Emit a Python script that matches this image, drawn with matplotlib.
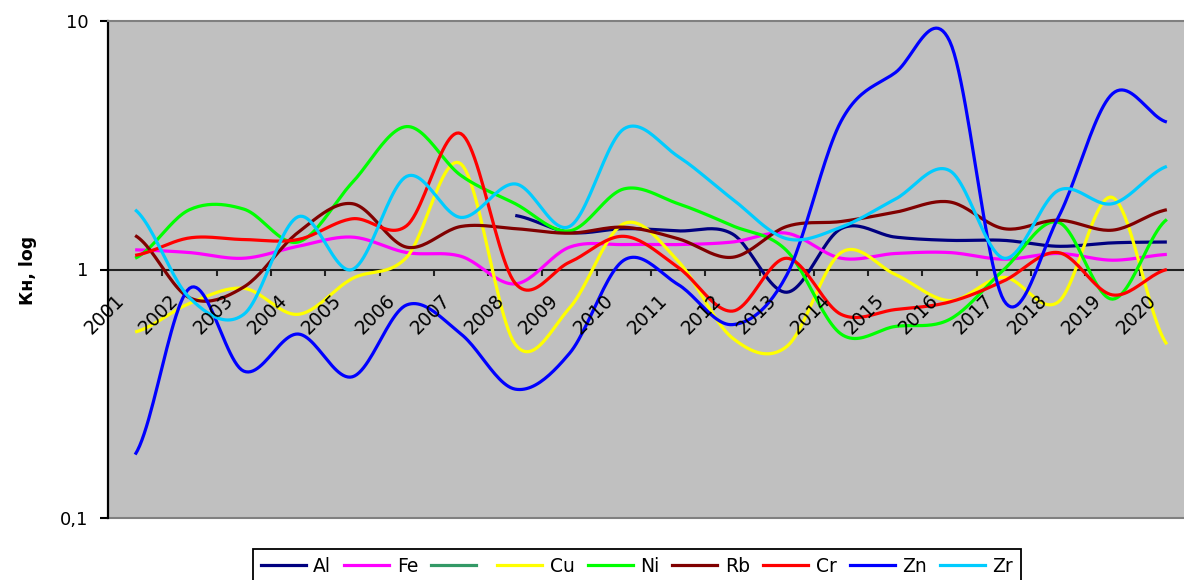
import numpy as np
import matplotlib
matplotlib.use("Agg")
import matplotlib.pyplot as plt
from matplotlib.lines import Line2D
from matplotlib.transforms import ScaledTranslation

plt.rcParams["font.family"] = ["DejaVu Sans"]

nan = np.nan

years = ["2001", "2002", "2003", "2004", "2005", "2006", "2007", "2008", "2009", "2010",
         "2011", "2012", "2013", "2014", "2015", "2016", "2017", "2018", "2019", "2020"]

al = [nan, nan, nan, nan, nan, nan, nan, 1.65, 1.41, 1.46,
      1.43, 1.39, 0.81, 1.46, 1.35, 1.31, 1.31, 1.24, 1.28, 1.29]
fe = [1.20, 1.17, 1.11, 1.24, 1.35, 1.17, 1.13, 0.875, 1.23, 1.26,
      1.26, 1.29, 1.40, 1.11, 1.16, 1.17, 1.10, 1.16, 1.09, 1.15]
cu = [0.56, 0.73, 0.84, 0.66, 0.92, 1.12, 2.66, 0.50, 0.70, 1.53,
      1.08, 0.53, 0.49, 1.17, 0.955, 0.75, 0.93, 0.74, 1.95, 0.50]
ni = [1.11, 1.74, 1.75, 1.29, 2.24, 3.76, 2.39, 1.84, 1.43, 2.11,
      1.84, 1.50, 1.19, 0.55, 0.59, 0.63, 1.00, 1.55, 0.76, 1.59]
rb = [1.37, 0.77, 0.85, 1.41, 1.84, 1.23, 1.49, 1.46, 1.40, 1.48,
      1.33, 1.12, 1.49, 1.56, 1.70, 1.87, 1.46, 1.58, 1.44, 1.74]
cr = [1.14, 1.34, 1.32, 1.32, 1.60, 1.50, 3.52, 0.88, 1.07, 1.36,
      1.02, 0.68, 1.11, 0.66, 0.69, 0.74, 0.90, 1.17, 0.79, 1.00]
zn = [0.18, 0.84, 0.39, 0.55, 0.37, 0.72, 0.55, 0.33, 0.46, 1.09,
      0.87, 0.60, 0.95, 3.95, 6.20, 8.30, 0.75, 1.62, 5.10, 3.92]
zr = [1.74, 0.77, 0.66, 1.63, 1.00, 2.37, 1.62, 2.21, 1.49, 3.68,
      2.85, 1.92, 1.33, 1.48, 1.92, 2.50, 1.11, 2.08, 1.84, 2.60]

series_names = ["Al", "Fe", "", "Cu", "Ni", "Rb", "Cr", "Zn", "Zr"]
series_values = [al, fe, None, cu, ni, rb, cr, zn, zr]
series_colors = ["#000080", "#FF00FF", "#339966", "#FFFF00", "#00FF00",
                 "#800000", "#FF0000", "#0000FF", "#00CCFF"]


def smooth(xs, ys, steps=24):
    """Catmull-Rom curve through the points, computed on log10 of the values."""
    xs = np.asarray(xs, float)
    ly = np.log10(np.asarray(ys, float))
    n = len(xs)
    out_x, out_y = [], []
    for i in range(n - 1):
        p0 = ly[i - 1] if i > 0 else ly[i]
        p1, p2 = ly[i], ly[i + 1]
        p3 = ly[i + 2] if i + 2 < n else ly[i + 1]
        m1 = (p2 - p0) / 2.0
        m2 = (p3 - p1) / 2.0
        t = np.linspace(0, 1, steps, endpoint=(i == n - 2))
        h00 = 2 * t**3 - 3 * t**2 + 1
        h10 = t**3 - 2 * t**2 + t
        h01 = -2 * t**3 + 3 * t**2
        h11 = t**3 - t**2
        out_x.append(xs[i] + t * (xs[i + 1] - xs[i]))
        out_y.append(h00 * p1 + h10 * m1 + h01 * p2 + h11 * m2)
    return np.concatenate(out_x), 10 ** np.concatenate(out_y)


W, H = 1184, 580
fig = plt.figure(figsize=(W / 100, H / 100), dpi=100, facecolor="white")
ax = fig.add_axes([108 / W, 62 / H, 1086 / W, 497 / H])
ax.set_facecolor("#C0C0C0")
ax.set_yscale("log")
ax.set_ylim(0.1, 10)
ax.set_xlim(-0.5, len(years) - 0.5)

idx = np.arange(len(years))
handles = []
for z, (name, vals, col) in enumerate(zip(series_names, series_values, series_colors)):
    if vals is not None:
        v = np.asarray(vals, float)
        ok = ~np.isnan(v)
        sx, sy = smooth(idx[ok], v[ok])
        ax.plot(sx, sy, color=col, lw=2.3, solid_capstyle="butt", zorder=3 + z)
    handles.append(Line2D([], [], color=col, lw=2.3))

# frame
ax.spines["right"].set_visible(False)
ax.spines["top"].set_color("#808080")
ax.spines["top"].set_linewidth(1.5)
ax.spines["left"].set_color("black")
ax.spines["left"].set_linewidth(1.6)
ax.spines["bottom"].set_position(("data", 1))
ax.spines["bottom"].set_color("#202020")
ax.spines["bottom"].set_linewidth(1.5)
ax.spines["bottom"].set_zorder(2)
ax.axhline(0.1, color="#808080", lw=1.5, clip_on=False, zorder=2)

# y axis
ax.yaxis.set_major_locator(matplotlib.ticker.FixedLocator([0.1, 1, 10]))
ax.yaxis.set_minor_locator(matplotlib.ticker.NullLocator())
ax.set_yticklabels(["0,1", "1", "10"])
ax.tick_params(axis="y", which="major", direction="out", length=6, width=1.5,
               pad=8, labelsize=13, colors="black")

# x axis: tick marks between categories, year labels under each category
ax.set_xticks(np.arange(0.5, len(years) - 1, 1.0))
ax.set_xticklabels([])
ax.tick_params(axis="x", which="major", direction="out", length=4.5, width=1.5,
               color="#202020")
ax.set_xticks([], minor=True)
shift = ScaledTranslation(-10 / 100, -32 / 100, fig.dpi_scale_trans)
for i, lab in enumerate(years):
    ax.text(i, 1, lab, transform=ax.transData + shift, rotation=45,
            rotation_mode="anchor", ha="right", va="baseline",
            fontsize=13.5, color="black", zorder=20)

fig.text(28 / W, 1 - 270 / H, "Кн, log", rotation=90, fontweight="bold",
         fontsize=12.5, ha="center", va="center")

leg = fig.legend(handles, series_names, loc="upper center",
                 bbox_to_anchor=(637 / W, 1 - 549 / H), ncol=len(series_names),
                 frameon=True, fancybox=False, edgecolor="black", framealpha=1,
                 fontsize=13.5, handlelength=2.4, handletextpad=0.4,
                 columnspacing=0.7, borderpad=0.4, borderaxespad=0)
leg.get_frame().set_linewidth(1.3)

fig.savefig("out.png", dpi=100, facecolor="white")
